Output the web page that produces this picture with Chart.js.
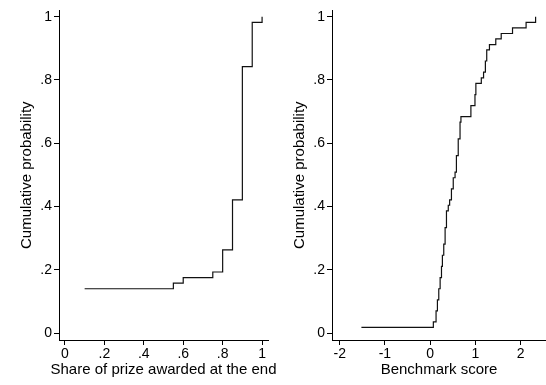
<!DOCTYPE html>
<html>
<head>
<meta charset="utf-8">
<script src="https://cdn.jsdelivr.net/npm/chart.js@4/dist/chart.umd.min.js"></script>
<style>
  html, body { margin: 0; padding: 0; background: #fff; }
  #wrap { position: relative; width: 546px; height: 385px; }
  #wrap canvas { position: absolute; left: 0; top: 0; }
</style>
</head>
<body>
<div id="wrap">
  <canvas id="shareChart" width="546" height="385"></canvas>
  <canvas id="scoreChart" width="546" height="385"></canvas>
</div>
<script>
// Empirical CDF of the share of the prize awarded at the end (step points)
const prizeShare   = [0.10, 0.55, 0.60, 0.75, 0.80, 0.85, 0.90, 0.95, 1.00];
const prizeCumProb = [0.140, 0.158, 0.175, 0.193, 0.263, 0.421, 0.842, 0.982, 1.000];

// Empirical CDF of the benchmark score (step points)
const benchScore = [-1.52, 0.07, 0.13, 0.16, 0.19, 0.22, 0.25, 0.27, 0.30, 0.33,
                    0.36, 0.40, 0.43, 0.47, 0.51, 0.55, 0.58, 0.62, 0.66, 0.68,
                    0.90, 0.99, 1.01, 1.13, 1.18, 1.22, 1.25, 1.31, 1.45, 1.57,
                    1.82, 2.12, 2.33];
const benchCumProb = [0.018, 0.035, 0.070, 0.105, 0.140, 0.175, 0.211, 0.246, 0.281, 0.333,
                      0.386, 0.404, 0.421, 0.456, 0.491, 0.509, 0.561, 0.614, 0.667, 0.684,
                      0.719, 0.754, 0.789, 0.807, 0.825, 0.860, 0.895, 0.912, 0.930, 0.947,
                      0.965, 0.982, 1.000];

// Tick values and their labels
const probTicks       = [0, 0.2, 0.4, 0.6, 0.8, 1];
const probTickLabels  = ['0', '.2', '.4', '.6', '.8', '1'];
const shareTicks      = [0, 0.2, 0.4, 0.6, 0.8, 1];
const shareTickLabels = ['0', '.2', '.4', '.6', '.8', '1'];
const scoreTicks      = [-2, -1, 0, 1, 2];
const scoreTickLabels = ['-2', '-1', '0', '1', '2'];

const FONT = 'Liberation Sans, Arial, Helvetica, sans-serif';
const INK = '#000';

function fixedTicks(values, labels) {
  return {
    afterBuildTicks: s => { s.ticks = values.map(v => ({ value: v })); },
    callback: v => labels[values.indexOf(v)]
  };
}

// x-axis title drawn at full width, so a long title may run past the plot edge
const xTitlePlugin = {
  id: 'xTitle',
  afterDraw(chart, args, opts) {
    const { ctx, chartArea } = chart;
    ctx.save();
    ctx.font = '15px ' + FONT;
    ctx.fillStyle = INK;
    ctx.textAlign = 'center';
    ctx.textBaseline = 'middle';
    ctx.fillText(opts.text, (chartArea.left + chartArea.right) / 2, 369.5);
    ctx.restore();
  }
};

function cdfChart(canvasId, xs, ys, xOpts) {
  const pts = xs.map((x, i) => ({ x: x, y: ys[i] }));
  const xt = fixedTicks(xOpts.ticks, xOpts.labels);
  const yt = fixedTicks(probTicks, probTickLabels);
  return new Chart(document.getElementById(canvasId), {
    type: 'scatter',
    data: {
      datasets: [{
        data: pts,
        showLine: true,
        stepped: 'before',
        borderColor: '#111',
        borderWidth: 1.2,
        pointRadius: 0,
        pointHoverRadius: 0,
        fill: false
      }]
    },
    plugins: [xTitlePlugin],
    options: {
      responsive: false,
      animation: false,
      devicePixelRatio: 1,
      events: [],
      layout: { padding: { left: xOpts.padLeft, right: xOpts.padRight, top: 7, bottom: 0 } },
      plugins: {
        legend: { display: false },
        tooltip: { enabled: false },
        xTitle: { text: xOpts.title }
      },
      scales: {
        x: {
          type: 'linear',
          min: xOpts.min,
          max: xOpts.max,
          afterBuildTicks: xt.afterBuildTicks,
          afterFit: s => { s.height = 45; },
          border: { display: true, color: INK, width: 1 },
          grid: { display: true, drawOnChartArea: false, drawTicks: true, tickLength: 5, color: INK, tickColor: INK },
          ticks: {
            callback: xt.callback,
            autoSkip: false, maxRotation: 0, padding: 1,
            color: INK, font: { family: FONT, size: 14 }
          },
          title: { display: false }
        },
        y: {
          type: 'linear',
          min: -0.022,
          max: 1.02,
          afterBuildTicks: yt.afterBuildTicks,
          afterFit: s => { s.width = 59; },
          border: { display: true, color: INK, width: 1 },
          grid: { display: true, drawOnChartArea: false, drawTicks: true, tickLength: 5, color: INK, tickColor: INK },
          ticks: {
            callback: yt.callback,
            autoSkip: false, padding: 2,
            color: INK, font: { family: FONT, size: 14 }
          },
          title: {
            display: true, text: 'Cumulative probability', color: INK,
            font: { family: FONT, size: 15 }, padding: { top: 18, bottom: 0 }
          }
        }
      }
    }
  });
}

cdfChart('shareChart', prizeShare, prizeCumProb, {
  min: -0.03, max: 1.03, ticks: shareTicks, labels: shareTickLabels,
  title: 'Share of prize awarded at the end', padLeft: 0, padRight: 278
});

cdfChart('scoreChart', benchScore, benchCumProb, {
  min: -2.17, max: 2.56, ticks: scoreTicks, labels: scoreTickLabels,
  title: 'Benchmark score', padLeft: 273, padRight: 0
});
</script>
</body>
</html>
